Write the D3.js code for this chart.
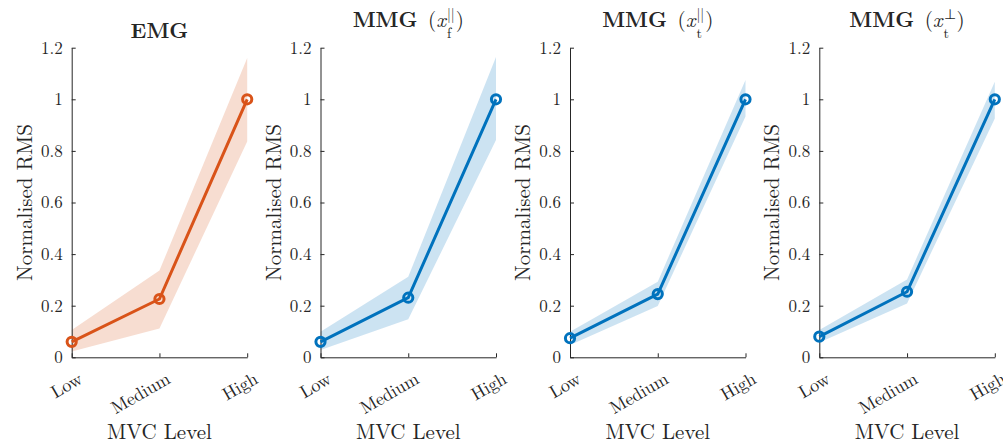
<!DOCTYPE html>
<html>
<head>
<meta charset="utf-8">
<script src="https://cdn.jsdelivr.net/npm/d3@7"></script>
<style>
  body { margin: 0; background: #fff; }
  text { font-family: "Latin Modern Roman", "CMU Serif", "Liberation Serif", serif; fill: #262626; }
</style>
</head>
<body>
<div id="chart"></div>
<script>
// MVC levels on the x axis
const levels = ['Low', 'Medium', 'High']
const yTicks = [0, 0.2, 0.4, 0.6, 0.8, 1, 1.2]

// panel titles
const titleNames = ['EMG', 'MMG', 'MMG', 'MMG']
const titleSup = [null, '||', '||', '\u22A5']
const titleSub = [null, 'f', 't', 't']

// normalised RMS, mean and shaded band (upper / lower)
const emgMean = [0.06, 0.226, 1.0]
const emgUpper = [0.106, 0.336, 1.16]
const emgLower = [0.022, 0.112, 0.836]

const mmgFParMean = [0.06, 0.231, 1.0]
const mmgFParUpper = [0.099, 0.312, 1.164]
const mmgFParLower = [0.028, 0.147, 0.842]

const mmgTParMean = [0.074, 0.245, 1.0]
const mmgTParUpper = [0.099, 0.293, 1.075]
const mmgTParLower = [0.048, 0.199, 0.933]

const mmgTPerpMean = [0.08, 0.254, 1.0]
const mmgTPerpUpper = [0.106, 0.302, 1.068]
const mmgTPerpLower = [0.057, 0.209, 0.926]

const panels = [
  {mean: emgMean, upper: emgUpper, lower: emgLower, color: '#D95319'},
  {mean: mmgFParMean, upper: mmgFParUpper, lower: mmgFParLower, color: '#0072BD'},
  {mean: mmgTParMean, upper: mmgTParUpper, lower: mmgTParLower, color: '#0072BD'},
  {mean: mmgTPerpMean, upper: mmgTPerpUpper, lower: mmgTPerpLower, color: '#0072BD'}
]

const W = 1003, H = 445
const panelLeft = [71.7, 320.5, 570, 819.3]
const panelWidth = 175.5
const yTop = 47.7, yBottom = 357.3

const svg = d3.select('#chart').append('svg')
  .attr('width', W).attr('height', H)

const yScale = d3.scaleLinear().domain([0, 1.2]).range([yBottom, yTop])

panels.forEach(function(p, i) {
  const g = svg.append('g').attr('transform', 'translate(' + panelLeft[i] + ',0)')
  const xScale = d3.scalePoint().domain(levels).range([0, panelWidth])

  const pts = levels.map(function(l, j) {
    return {level: l, mean: p.mean[j], upper: p.upper[j], lower: p.lower[j]}
  })

  // shaded band
  const area = d3.area()
    .x(function(d) { return xScale(d.level) })
    .y0(function(d) { return yScale(d.lower) })
    .y1(function(d) { return yScale(d.upper) })
  g.append('path').datum(pts)
    .attr('d', area)
    .attr('fill', p.color)
    .attr('fill-opacity', 0.2)

  // axes
  const yAxis = d3.axisLeft(yScale).tickValues(yTicks)
    .tickFormat(d3.format('~g')).tickSizeInner(-4).tickSizeOuter(0).tickPadding(9)
  const ya = g.append('g').call(yAxis)
  ya.attr('font-family', null).attr('font-size', null)
  ya.selectAll('text').attr('font-size', 17)

  const xAxis = d3.axisBottom(xScale).tickSizeInner(-4).tickSizeOuter(0).tickFormat('')
  g.append('g').attr('transform', 'translate(0,' + yBottom + ')').call(xAxis)

  g.selectAll('.domain, .tick line').attr('stroke', '#262626').attr('stroke-width', 1)

  // rotated x tick labels
  g.selectAll('.xlab').data(levels).enter().append('text')
    .attr('class', 'xlab')
    .attr('text-anchor', 'end')
    .attr('font-size', 18)
    .attr('transform', function(d) {
      return 'translate(' + (xScale(d) + 12) + ',' + (yBottom + 25) + ') rotate(-30)'
    })
    .text(function(d) { return d })

  // mean line + markers
  const line = d3.line()
    .x(function(d) { return xScale(d.level) })
    .y(function(d) { return yScale(d.mean) })
  g.append('path').datum(pts)
    .attr('d', line)
    .attr('fill', 'none')
    .attr('stroke', p.color)
    .attr('stroke-width', 3)
  g.selectAll('.mk').data(pts).enter().append('circle')
    .attr('class', 'mk')
    .attr('cx', function(d) { return xScale(d.level) })
    .attr('cy', function(d) { return yScale(d.mean) })
    .attr('r', 4.6)
    .attr('fill', 'none')
    .attr('stroke', p.color)
    .attr('stroke-width', 3)

  // axis labels
  g.append('text')
    .attr('text-anchor', 'middle')
    .attr('font-size', 21)
    .attr('transform', 'translate(-40,' + ((yTop + yBottom) / 2) + ') rotate(-90)')
    .text('Normalised RMS')
  g.append('text')
    .attr('text-anchor', 'middle')
    .attr('font-size', 21)
    .attr('x', panelWidth / 2)
    .attr('y', 439)
    .text('MVC Level')

  // title
  const t = g.append('text')
    .attr('text-anchor', 'middle')
    .attr('x', panelWidth / 2)
    .attr('font-size', 21)
  t.append('tspan').attr('font-weight', 'bold').text(titleNames[i])
  if (titleSup[i]) {
    t.attr('y', 27)
    t.append('tspan').text('\u2002(')
    t.append('tspan').attr('font-style', 'italic').text('x')
    const sup = t.append('tspan').attr('font-size', 14).attr('dx', 1).attr('dy', -8).text(titleSup[i])
    const supW = sup.node().getComputedTextLength()
    const sub = t.append('tspan').attr('font-size', 14).attr('dx', -supW).attr('dy', 19).text(titleSub[i])
    const subW = sub.node().getComputedTextLength()
    t.append('tspan').attr('dx', Math.max(0, supW - subW) + 1).attr('dy', -11).text(')')
  } else {
    t.attr('y', 38)
  }
})
</script>
</body>
</html>
